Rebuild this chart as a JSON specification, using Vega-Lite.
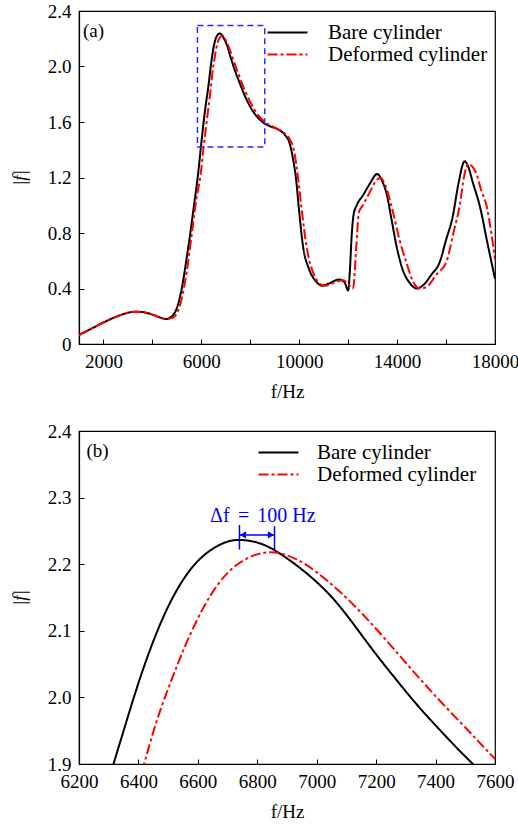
{
  "$schema": "https://vega.github.io/schema/vega-lite/v6.json",
  "padding": {"left": 9, "top": 1, "right": 0, "bottom": 0},
  "background": "white",
  "config": {
    "font": "Liberation Serif",
    "view": {"stroke": "#000", "strokeWidth": 1.2},
    "axis": {"grid": false, "domainColor": "#000", "tickColor": "#000", "labelColor": "#000", "titleColor": "#000", "labelFont": "Liberation Serif", "titleFont": "Liberation Serif", "labelFontSize": 19, "titleFontSize": 19, "titleFontWeight": "normal", "tickSize": -5, "domainWidth": 1.2, "tickWidth": 1, "labelFlush": false, "labelOverlap": false},
    "axisX": {"labelPadding": 13, "titlePadding": 11},
    "axisY": {"labelPadding": 13, "titlePadding": 18},
    "legend": {"labelFont": "Liberation Serif", "labelFontSize": 21, "labelColor": "#000", "symbolType": "M-4,0H4", "symbolSize": 100, "symbolStrokeWidth": 2, "labelOffset": 29, "rowPadding": 0, "padding": 0, "labelLimit": 400},
    "concat": {"spacing": 19}
  },
  "datasets": {
    "curves": [
      {"s": "Bare cylinder", "f": 1000, "v": 0.065}, {"s": "Bare cylinder", "f": 1500, "v": 0.11}, {"s": "Bare cylinder", "f": 2000, "v": 0.155}, {"s": "Bare cylinder", "f": 2500, "v": 0.195}, {"s": "Bare cylinder", "f": 3000, "v": 0.225}, {"s": "Bare cylinder", "f": 3300, "v": 0.233}, {"s": "Bare cylinder", "f": 3600, "v": 0.23}, {"s": "Bare cylinder", "f": 4000, "v": 0.212}, {"s": "Bare cylinder", "f": 4300, "v": 0.192}, {"s": "Bare cylinder", "f": 4550, "v": 0.18}, {"s": "Bare cylinder", "f": 4800, "v": 0.2}, {"s": "Bare cylinder", "f": 5000, "v": 0.26}, {"s": "Bare cylinder", "f": 5200, "v": 0.4}, {"s": "Bare cylinder", "f": 5400, "v": 0.62}, {"s": "Bare cylinder", "f": 5550, "v": 0.8}, {"s": "Bare cylinder", "f": 5700, "v": 1.0}, {"s": "Bare cylinder", "f": 5863, "v": 1.22}, {"s": "Bare cylinder", "f": 6000, "v": 1.45}, {"s": "Bare cylinder", "f": 6100, "v": 1.61}, {"s": "Bare cylinder", "f": 6200, "v": 1.75}, {"s": "Bare cylinder", "f": 6270, "v": 1.833}, {"s": "Bare cylinder", "f": 6316, "v": 1.9}, {"s": "Bare cylinder", "f": 6357, "v": 1.96}, {"s": "Bare cylinder", "f": 6396, "v": 2.017}, {"s": "Bare cylinder", "f": 6430, "v": 2.061}, {"s": "Bare cylinder", "f": 6458, "v": 2.094}, {"s": "Bare cylinder", "f": 6492, "v": 2.13}, {"s": "Bare cylinder", "f": 6537, "v": 2.169}, {"s": "Bare cylinder", "f": 6593, "v": 2.204}, {"s": "Bare cylinder", "f": 6649, "v": 2.224}, {"s": "Bare cylinder", "f": 6694, "v": 2.234}, {"s": "Bare cylinder", "f": 6739, "v": 2.238}, {"s": "Bare cylinder", "f": 6806, "v": 2.233}, {"s": "Bare cylinder", "f": 6858, "v": 2.222}, {"s": "Bare cylinder", "f": 6932, "v": 2.199}, {"s": "Bare cylinder", "f": 7000, "v": 2.174}, {"s": "Bare cylinder", "f": 7067, "v": 2.144}, {"s": "Bare cylinder", "f": 7134, "v": 2.104}, {"s": "Bare cylinder", "f": 7200, "v": 2.064}, {"s": "Bare cylinder", "f": 7267, "v": 2.027}, {"s": "Bare cylinder", "f": 7334, "v": 1.99}, {"s": "Bare cylinder", "f": 7402, "v": 1.957}, {"s": "Bare cylinder", "f": 7469, "v": 1.925}, {"s": "Bare cylinder", "f": 7525, "v": 1.9}, {"s": "Bare cylinder", "f": 7800, "v": 1.78}, {"s": "Bare cylinder", "f": 8100, "v": 1.68}, {"s": "Bare cylinder", "f": 8500, "v": 1.6}, {"s": "Bare cylinder", "f": 8800, "v": 1.57}, {"s": "Bare cylinder", "f": 9100, "v": 1.55}, {"s": "Bare cylinder", "f": 9400, "v": 1.51}, {"s": "Bare cylinder", "f": 9600, "v": 1.45}, {"s": "Bare cylinder", "f": 9750, "v": 1.33}, {"s": "Bare cylinder", "f": 9870, "v": 1.19}, {"s": "Bare cylinder", "f": 10000, "v": 0.95}, {"s": "Bare cylinder", "f": 10150, "v": 0.71}, {"s": "Bare cylinder", "f": 10400, "v": 0.54}, {"s": "Bare cylinder", "f": 10690, "v": 0.45}, {"s": "Bare cylinder", "f": 10930, "v": 0.42}, {"s": "Bare cylinder", "f": 11200, "v": 0.435}, {"s": "Bare cylinder", "f": 11630, "v": 0.465}, {"s": "Bare cylinder", "f": 11850, "v": 0.445}, {"s": "Bare cylinder", "f": 12000, "v": 0.385}, {"s": "Bare cylinder", "f": 12060, "v": 0.5}, {"s": "Bare cylinder", "f": 12150, "v": 0.8}, {"s": "Bare cylinder", "f": 12220, "v": 0.93}, {"s": "Bare cylinder", "f": 12350, "v": 1.0}, {"s": "Bare cylinder", "f": 12600, "v": 1.07}, {"s": "Bare cylinder", "f": 12900, "v": 1.16}, {"s": "Bare cylinder", "f": 13180, "v": 1.225}, {"s": "Bare cylinder", "f": 13400, "v": 1.17}, {"s": "Bare cylinder", "f": 13560, "v": 1.09}, {"s": "Bare cylinder", "f": 13770, "v": 0.9}, {"s": "Bare cylinder", "f": 13970, "v": 0.71}, {"s": "Bare cylinder", "f": 14200, "v": 0.55}, {"s": "Bare cylinder", "f": 14515, "v": 0.44}, {"s": "Bare cylinder", "f": 14810, "v": 0.4}, {"s": "Bare cylinder", "f": 15100, "v": 0.43}, {"s": "Bare cylinder", "f": 15400, "v": 0.5}, {"s": "Bare cylinder", "f": 15740, "v": 0.59}, {"s": "Bare cylinder", "f": 16000, "v": 0.75}, {"s": "Bare cylinder", "f": 16280, "v": 0.925}, {"s": "Bare cylinder", "f": 16500, "v": 1.15}, {"s": "Bare cylinder", "f": 16760, "v": 1.317}, {"s": "Bare cylinder", "f": 16900, "v": 1.28}, {"s": "Bare cylinder", "f": 17100, "v": 1.16}, {"s": "Bare cylinder", "f": 17375, "v": 0.997}, {"s": "Bare cylinder", "f": 17700, "v": 0.72}, {"s": "Bare cylinder", "f": 18000, "v": 0.47},
      {"s": "Deformed cylinder", "f": 1000, "v": 0.065}, {"s": "Deformed cylinder", "f": 1500, "v": 0.11}, {"s": "Deformed cylinder", "f": 2000, "v": 0.155}, {"s": "Deformed cylinder", "f": 2500, "v": 0.195}, {"s": "Deformed cylinder", "f": 3000, "v": 0.225}, {"s": "Deformed cylinder", "f": 3300, "v": 0.233}, {"s": "Deformed cylinder", "f": 3600, "v": 0.23}, {"s": "Deformed cylinder", "f": 4000, "v": 0.212}, {"s": "Deformed cylinder", "f": 4300, "v": 0.192}, {"s": "Deformed cylinder", "f": 4550, "v": 0.18}, {"s": "Deformed cylinder", "f": 4850, "v": 0.19}, {"s": "Deformed cylinder", "f": 5000, "v": 0.22}, {"s": "Deformed cylinder", "f": 5200, "v": 0.33}, {"s": "Deformed cylinder", "f": 5400, "v": 0.52}, {"s": "Deformed cylinder", "f": 5600, "v": 0.78}, {"s": "Deformed cylinder", "f": 5800, "v": 1.05}, {"s": "Deformed cylinder", "f": 5970, "v": 1.22}, {"s": "Deformed cylinder", "f": 6100, "v": 1.43}, {"s": "Deformed cylinder", "f": 6250, "v": 1.65}, {"s": "Deformed cylinder", "f": 6350, "v": 1.79}, {"s": "Deformed cylinder", "f": 6419, "v": 1.9}, {"s": "Deformed cylinder", "f": 6458, "v": 1.962}, {"s": "Deformed cylinder", "f": 6497, "v": 2.01}, {"s": "Deformed cylinder", "f": 6531, "v": 2.049}, {"s": "Deformed cylinder", "f": 6560, "v": 2.081}, {"s": "Deformed cylinder", "f": 6615, "v": 2.134}, {"s": "Deformed cylinder", "f": 6671, "v": 2.174}, {"s": "Deformed cylinder", "f": 6727, "v": 2.2}, {"s": "Deformed cylinder", "f": 6795, "v": 2.216}, {"s": "Deformed cylinder", "f": 6858, "v": 2.22}, {"s": "Deformed cylinder", "f": 6932, "v": 2.209}, {"s": "Deformed cylinder", "f": 7000, "v": 2.189}, {"s": "Deformed cylinder", "f": 7079, "v": 2.159}, {"s": "Deformed cylinder", "f": 7158, "v": 2.124}, {"s": "Deformed cylinder", "f": 7236, "v": 2.085}, {"s": "Deformed cylinder", "f": 7313, "v": 2.045}, {"s": "Deformed cylinder", "f": 7391, "v": 2.006}, {"s": "Deformed cylinder", "f": 7469, "v": 1.969}, {"s": "Deformed cylinder", "f": 7537, "v": 1.938}, {"s": "Deformed cylinder", "f": 7600, "v": 1.906}, {"s": "Deformed cylinder", "f": 7900, "v": 1.78}, {"s": "Deformed cylinder", "f": 8200, "v": 1.68}, {"s": "Deformed cylinder", "f": 8600, "v": 1.6}, {"s": "Deformed cylinder", "f": 9000, "v": 1.56}, {"s": "Deformed cylinder", "f": 9300, "v": 1.53}, {"s": "Deformed cylinder", "f": 9600, "v": 1.48}, {"s": "Deformed cylinder", "f": 9800, "v": 1.38}, {"s": "Deformed cylinder", "f": 9950, "v": 1.2}, {"s": "Deformed cylinder", "f": 10100, "v": 0.97}, {"s": "Deformed cylinder", "f": 10300, "v": 0.7}, {"s": "Deformed cylinder", "f": 10600, "v": 0.5}, {"s": "Deformed cylinder", "f": 10800, "v": 0.44}, {"s": "Deformed cylinder", "f": 11050, "v": 0.42}, {"s": "Deformed cylinder", "f": 11400, "v": 0.44}, {"s": "Deformed cylinder", "f": 11800, "v": 0.46}, {"s": "Deformed cylinder", "f": 12000, "v": 0.43}, {"s": "Deformed cylinder", "f": 12200, "v": 0.4}, {"s": "Deformed cylinder", "f": 12330, "v": 0.7}, {"s": "Deformed cylinder", "f": 12440, "v": 0.95}, {"s": "Deformed cylinder", "f": 12600, "v": 1.0}, {"s": "Deformed cylinder", "f": 12900, "v": 1.1}, {"s": "Deformed cylinder", "f": 13150, "v": 1.18}, {"s": "Deformed cylinder", "f": 13330, "v": 1.196}, {"s": "Deformed cylinder", "f": 13500, "v": 1.15}, {"s": "Deformed cylinder", "f": 13830, "v": 0.95}, {"s": "Deformed cylinder", "f": 14100, "v": 0.75}, {"s": "Deformed cylinder", "f": 14375, "v": 0.59}, {"s": "Deformed cylinder", "f": 14650, "v": 0.45}, {"s": "Deformed cylinder", "f": 14920, "v": 0.4}, {"s": "Deformed cylinder", "f": 15200, "v": 0.41}, {"s": "Deformed cylinder", "f": 15600, "v": 0.5}, {"s": "Deformed cylinder", "f": 16010, "v": 0.59}, {"s": "Deformed cylinder", "f": 16300, "v": 0.8}, {"s": "Deformed cylinder", "f": 16560, "v": 1.0}, {"s": "Deformed cylinder", "f": 16750, "v": 1.22}, {"s": "Deformed cylinder", "f": 16900, "v": 1.297}, {"s": "Deformed cylinder", "f": 17210, "v": 1.24}, {"s": "Deformed cylinder", "f": 17450, "v": 1.1}, {"s": "Deformed cylinder", "f": 17650, "v": 1.0}, {"s": "Deformed cylinder", "f": 17850, "v": 0.8}, {"s": "Deformed cylinder", "f": 18000, "v": 0.61}
    ]
  },
  "resolve": {"scale": {"color": "independent", "strokeDash": "independent"}, "legend": {"color": "independent", "strokeDash": "independent"}},
  "vconcat": [
    {
      "width": 416, "height": 333,
      "layer": [
        {
          "data": {"name": "curves"},
          "mark": {"type": "line", "strokeWidth": 2, "interpolate": "monotone", "clip": true},
          "encoding": {
            "x": {"field": "f", "type": "quantitative", "scale": {"domain": [1000, 18000], "nice": false, "zero": false},
                  "axis": {"title": "f/Hz", "labelOverlap": false, "values": [2000, 3000, 4000, 5000, 6000, 7000, 8000, 9000, 10000, 11000, 12000, 13000, 14000, 15000, 16000, 17000, 18000], "labelExpr": "indexof([2000, 6000, 10000, 14000, 18000], datum.value) >= 0 ? format(datum.value, 'd') : ''"}},
            "y": {"field": "v", "type": "quantitative", "scale": {"domain": [0, 2.4], "nice": false},
                  "axis": {"title": "|f|", "titleFontStyle": "italic", "labelOverlap": false, "values": [0, 0.2, 0.4, 0.6, 0.8, 1.0, 1.2, 1.4, 1.6, 1.8, 2.0, 2.2, 2.4], "labelExpr": "round(datum.value*10)%4==0 ? (datum.value==0 ? '0' : format(datum.value,'.1f')) : ''"}},
            "color": {"field": "s", "type": "nominal", "scale": {"domain": ["Bare cylinder", "Deformed cylinder"], "range": ["#000000", "#ff0000"]},
                      "legend": {"title": null, "orient": "none", "legendX": 198, "legendY": 11, "labelOffset": 30}},
            "strokeDash": {"field": "s", "type": "nominal", "scale": {"domain": ["Bare cylinder", "Deformed cylinder"], "range": [[1, 0], [10, 3, 3, 3]]},
                      "legend": {"title": null, "orient": "none", "legendX": 198, "legendY": 11, "labelOffset": 30}}
          }
        },
        {
          "data": {"values": [{"x1": 5840, "x2": 8590, "y1": 1.42, "y2": 2.295}]},
          "mark": {"type": "rect", "fill": "transparent", "stroke": "#2a2aff", "strokeWidth": 1.5, "strokeDash": [6, 4]},
          "encoding": {"x": {"field": "x1", "type": "quantitative"}, "x2": {"field": "x2"}, "y": {"field": "y1", "type": "quantitative"}, "y2": {"field": "y2"}}
        },
        {
          "data": {"values": [{"f": 1160, "v": 2.255, "t": "(a)"}]},
          "mark": {"type": "text", "align": "left", "baseline": "middle", "fontSize": 19, "color": "#000"},
          "encoding": {"x": {"field": "f", "type": "quantitative"}, "y": {"field": "v", "type": "quantitative"}, "text": {"field": "t"}}
        }
      ]
    },
    {
      "width": 416, "height": 333,
      "layer": [
        {
          "data": {"name": "curves"},
          "mark": {"type": "line", "strokeWidth": 2, "interpolate": "basis", "clip": true},
          "encoding": {
            "x": {"field": "f", "type": "quantitative", "scale": {"domain": [6200, 7600], "nice": false, "zero": false},
                  "axis": {"title": "f/Hz", "labelOverlap": false, "values": [6200, 6300, 6400, 6500, 6600, 6700, 6800, 6900, 7000, 7100, 7200, 7300, 7400, 7500, 7600], "labelExpr": "datum.value%200==0 ? format(datum.value,'d') : ''"}},
            "y": {"field": "v", "type": "quantitative", "scale": {"domain": [1.9, 2.4], "nice": false, "zero": false},
                  "axis": {"title": "|f|", "titleFontStyle": "italic", "labelOverlap": false, "values": [1.9, 1.95, 2.0, 2.05, 2.1, 2.15, 2.2, 2.25, 2.3, 2.35, 2.4], "labelExpr": "round(datum.value*100)%10==0 ? format(datum.value,'.1f') : ''"}},
            "color": {"field": "s", "type": "nominal", "scale": {"domain": ["Bare cylinder", "Deformed cylinder"], "range": ["#000000", "#ff0000"]},
                      "legend": {"title": null, "orient": "none", "legendX": 189, "legendY": 11, "labelOffset": 28}},
            "strokeDash": {"field": "s", "type": "nominal", "scale": {"domain": ["Bare cylinder", "Deformed cylinder"], "range": [[1, 0], [10, 3, 3, 3]]},
                      "legend": {"title": null, "orient": "none", "legendX": 189, "legendY": 11, "labelOffset": 28}}
          }
        },
        {
          "data": {"values": [{"f": 6740, "y1": 2.222, "y2": 2.259}, {"f": 6858, "y1": 2.22, "y2": 2.257}]},
          "mark": {"type": "rule", "color": "#0000ff", "strokeWidth": 1.5},
          "encoding": {"x": {"field": "f", "type": "quantitative"}, "y": {"field": "y1", "type": "quantitative"}, "y2": {"field": "y2"}}
        },
        {
          "data": {"values": [{"a": 6740, "b": 6858, "v": 2.244}]},
          "mark": {"type": "rule", "color": "#0000ff", "strokeWidth": 1.5},
          "encoding": {"x": {"field": "a", "type": "quantitative"}, "x2": {"field": "b"}, "y": {"field": "v", "type": "quantitative"}}
        },
        {
          "data": {"values": [{"f": 6752, "v": 2.244, "sh": "triangle-left"}, {"f": 6846, "v": 2.244, "sh": "triangle-right"}]},
          "mark": {"type": "point", "filled": true, "color": "#0000ff", "size": 50, "opacity": 1},
          "encoding": {"x": {"field": "f", "type": "quantitative"}, "y": {"field": "v", "type": "quantitative"}, "shape": {"field": "sh", "type": "nominal", "scale": null}}
        },
        {
          "data": {"values": [{"f": 6641, "v": 2.272, "t": "Δ", "st": "normal"}, {"f": 6685, "v": 2.272, "t": "f", "st": "italic"}, {"f": 6735, "v": 2.272, "t": "=", "st": "normal"}, {"f": 6800, "v": 2.272, "t": "100 Hz", "st": "normal"}]},
          "mark": {"type": "text", "align": "left", "baseline": "middle", "fontSize": 20, "color": "#0000ff"},
          "encoding": {"x": {"field": "f", "type": "quantitative"}, "y": {"field": "v", "type": "quantitative"}, "text": {"field": "t"}, "fontStyle": {"field": "st", "type": "nominal", "scale": null}}
        },
        {
          "data": {"values": [{"f": 6225, "v": 2.37, "t": "(b)"}]},
          "mark": {"type": "text", "align": "left", "baseline": "middle", "fontSize": 19, "color": "#000"},
          "encoding": {"x": {"field": "f", "type": "quantitative"}, "y": {"field": "v", "type": "quantitative"}, "text": {"field": "t"}}
        }
      ]
    }
  ]
}
